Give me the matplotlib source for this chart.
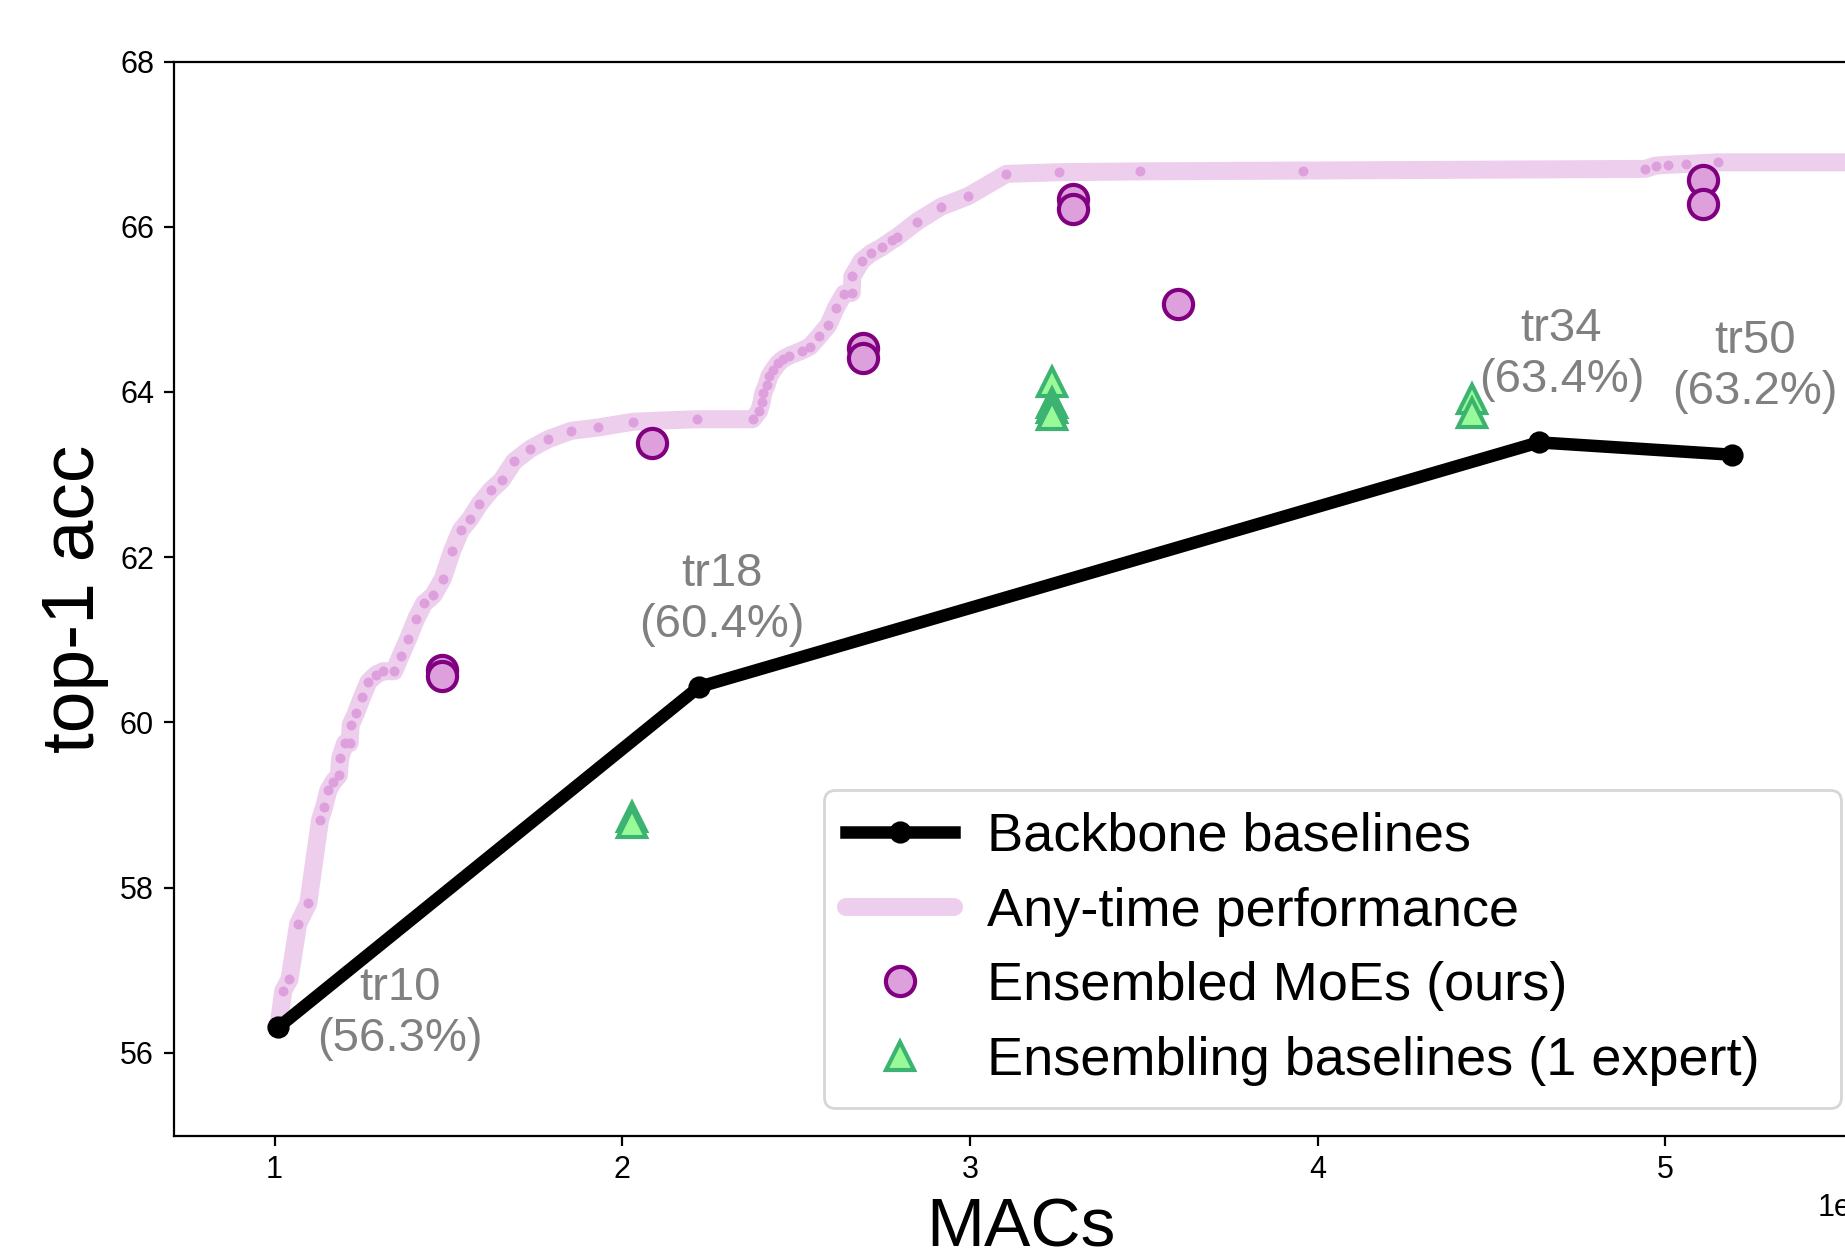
import numpy as np
import matplotlib
matplotlib.use('Agg')
import matplotlib.pyplot as plt

plt.rcParams['font.family'] = ['Liberation Sans', 'DejaVu Sans']

# backbone baselines (MACs in 1e9)
backbone_names = ['tr10', 'tr18', 'tr34', 'tr50']
backbone_macs = [1.011, 2.221, 4.636, 5.193]
backbone_acc = [56.31, 60.43, 63.39, 63.24]

# any-time performance curve
anytime_macs = [1.011, 1.025, 1.043, 1.068, 1.097, 1.131, 1.143, 1.155, 1.169, 1.185,
                1.189, 1.203, 1.216, 1.219, 1.234, 1.252, 1.270, 1.292, 1.313, 1.344,
                1.363, 1.384, 1.407, 1.430, 1.457, 1.484, 1.511, 1.536, 1.562, 1.589,
                1.622, 1.653, 1.689, 1.735, 1.788, 1.853, 1.931, 2.032, 2.214, 2.375,
                2.394, 2.401, 2.406, 2.416, 2.423, 2.435, 2.449, 2.463, 2.481, 2.516,
                2.540, 2.567, 2.593, 2.615, 2.638, 2.660, 2.662, 2.689, 2.716, 2.746,
                2.777, 2.789, 2.847, 2.916, 2.995, 3.105, 3.255, 3.488, 3.957, 4.943,
                4.972, 5.008, 5.060, 5.152, 5.700]
anytime_acc = [56.31, 56.75, 56.89, 57.56, 57.81, 58.82, 58.98, 59.18, 59.28, 59.36,
               59.57, 59.75, 59.75, 59.97, 60.11, 60.31, 60.49, 60.58, 60.62, 60.62,
               60.81, 61.01, 61.25, 61.44, 61.54, 61.74, 62.08, 62.33, 62.46, 62.64,
               62.81, 62.93, 63.16, 63.31, 63.43, 63.53, 63.57, 63.64, 63.67, 63.67,
               63.77, 63.88, 63.99, 64.09, 64.19, 64.27, 64.35, 64.40, 64.44, 64.50,
               64.55, 64.68, 64.81, 65.02, 65.19, 65.20, 65.40, 65.59, 65.68, 65.75,
               65.84, 65.87, 66.06, 66.24, 66.37, 66.64, 66.66, 66.67, 66.68, 66.70,
               66.74, 66.75, 66.76, 66.78, 66.78]

# ensembled MoEs (ours)
moe_macs = [1.481, 1.481, 2.087, 2.693, 2.693, 3.296, 3.296, 3.598, 5.108, 5.108]
moe_acc = [60.64, 60.56, 63.38, 64.53, 64.41, 66.33, 66.21, 65.06, 66.57, 66.27]

# ensembling baselines (1 expert)
ens_macs = [2.027, 2.027, 3.236, 3.236, 3.236, 3.236, 4.444, 4.444]
ens_acc = [58.85, 58.78, 64.12, 63.87, 63.80, 63.72, 63.91, 63.75]

G = 1e9

fig = plt.figure(figsize=(9.225, 6.24), dpi=200)
ax = fig.add_axes([0.09404, 0.09014, 0.91843, 0.86058])

ax.plot(np.array(anytime_macs) * G, anytime_acc, '-', color='plum', alpha=0.5, lw=6.5,
        solid_capstyle='round', solid_joinstyle='round', label='Any-time performance', zorder=1)
ax.plot(np.array(anytime_macs) * G, anytime_acc, 'o', color='plum', ms=3.6, mew=0, zorder=2)

ax.plot(np.array(backbone_macs) * G, backbone_acc, 'o-', color='black', lw=4.5, ms=7,
        label='Backbone baselines', zorder=3)

ax.plot(np.array(moe_macs) * G, moe_acc, 'o', mfc='plum', mec='purple', mew=1.5, ms=10.5,
        linestyle='none', label='Ensembled MoEs (ours)', zorder=4)
ax.plot(np.array(ens_macs) * G, ens_acc, '^', mfc='palegreen', mec='mediumseagreen', mew=1.5,
        ms=10, linestyle='none', label='Ensembling baselines (1 expert)', zorder=4)

# labels next to backbone points
text_dx = [0.35, 0.065, 0.065, 0.065]
text_dy = [0.17, 1.06, 1.06, 1.07]
for name, mx, acc, dx, dy in zip(backbone_names, backbone_macs, backbone_acc, text_dx, text_dy):
    ax.text((mx + dx) * G, acc + dy, f'{name}\n({acc:.1f}%)', color='gray', fontsize=17,
            ha='center', va='center', multialignment='center', zorder=5)

ax.set_xlim(0.7095 * G, 5.583 * G)
ax.set_ylim(55, 68)
ax.set_yticks([56, 58, 60, 62, 64, 66, 68])
ax.tick_params(labelsize=11)
ax.xaxis.get_offset_text().set_fontsize(11)
ax.set_xlabel('MACs', fontsize=25)
ax.set_ylabel('top-1 acc', fontsize=27)

handles, labels = ax.get_legend_handles_labels()
order = [1, 0, 2, 3]
ax.legend([handles[i] for i in order], [labels[i] for i in order], fontsize=19.5,
          loc='lower left', bbox_to_anchor=(0.3839, 0.0256, 0.600, 0.3), mode='expand',
          borderaxespad=0, handlelength=2.0, handletextpad=0.6, labelspacing=0.46)

fig.savefig('out.png', dpi=200)
